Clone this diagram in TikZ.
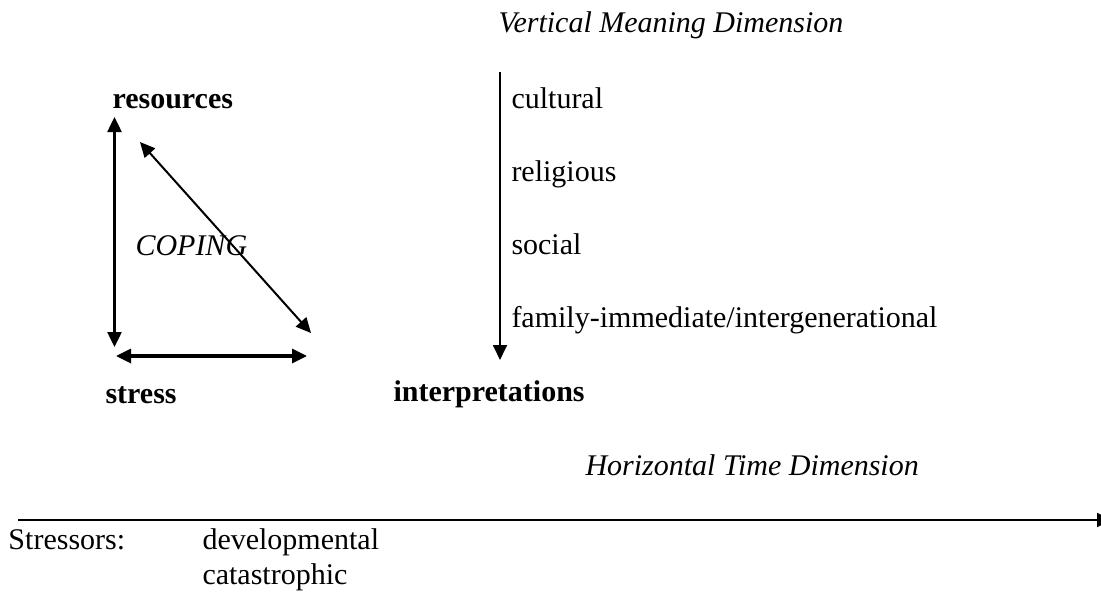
\documentclass[tikz,border=0pt]{standalone}
\usepackage{fontspec}
\setmainfont{Liberation Serif}
\usetikzlibrary{arrows.meta}

\begin{document}
\begin{tikzpicture}[x=0.4pt, y=-0.4pt, font=\fontsize{12}{14}\selectfont,
		tip/.style={-{Triangle[length=6pt,width=5.6pt]}},
		twotip/.style={{Triangle[length=6pt,width=5.6pt]}-{Triangle[length=6pt,width=5.6pt]}},
		lbl/.style={anchor=base west, inner sep=0pt}]
		
		% page frame (1 unit = 1 px of the original drawing)
		\useasboundingbox (0,0) rectangle (1101,594);
		
		% --- Coping triangle ---
		\node[lbl, font=\fontsize{12}{14}\selectfont\bfseries] (res) at (112,108) {resources};
		\node[lbl, font=\fontsize{12}{14}\selectfont\bfseries] (str) at (105,403) {stress};
		\node[lbl, font=\fontsize{12}{14}\selectfont\itshape] (cop) at (135,255) {COPING};
		
		\coordinate (vtop) at (114.5,117);
		\coordinate (vbot) at (114.5,347);
		\coordinate (dtop) at (140,142);
		\coordinate (dbot) at (311,333);
		\coordinate (hleft) at (116,356);
		\coordinate (hright) at (307,356);
		
		\draw[twotip, line width=1pt] (vtop) -- (vbot);
		\draw[twotip, line width=0.8pt] (dtop) -- (dbot);
		\draw[twotip, line width=1.3pt] (hleft) -- (hright);
		
		% --- Vertical meaning dimension ---
		\node[lbl, font=\fontsize{12}{14}\selectfont\itshape] (vmd) at (498,32) {Vertical Meaning Dimension};
		\coordinate (mtop) at (500,72);
		\coordinate (mbot) at (500,360);
		\draw[tip, line width=0.7pt] (mtop) -- (mbot);
		
		% levels, 73 px apart
		\foreach \lev [count=\i from 0] in {cultural,religious,social,family-immediate/intergenerational} {
			\node[lbl] (lev\i) at (511,108+73*\i) {\lev};
		}
		\node[lbl, font=\fontsize{12}{14}\selectfont\bfseries] (int) at (393,401) {interpretations};
		
		% --- Horizontal time dimension ---
		\node[lbl, font=\fontsize{12}{14}\selectfont\itshape] (htd) at (585,475) {Horizontal Time Dimension};
		\coordinate (tleft) at (18,520);
		\coordinate (tright) at (1112,520); % tip runs off the page edge
		\draw[tip, line width=0.8pt] (tleft) -- (tright);
		
		\node[lbl] (sts) at (8,549) {Stressors:};
		\node[lbl] (dev) at (202,549) {developmental};
		\node[lbl] (cat) at (202,584) {catastrophic};
		
	\end{tikzpicture}
\end{document}
